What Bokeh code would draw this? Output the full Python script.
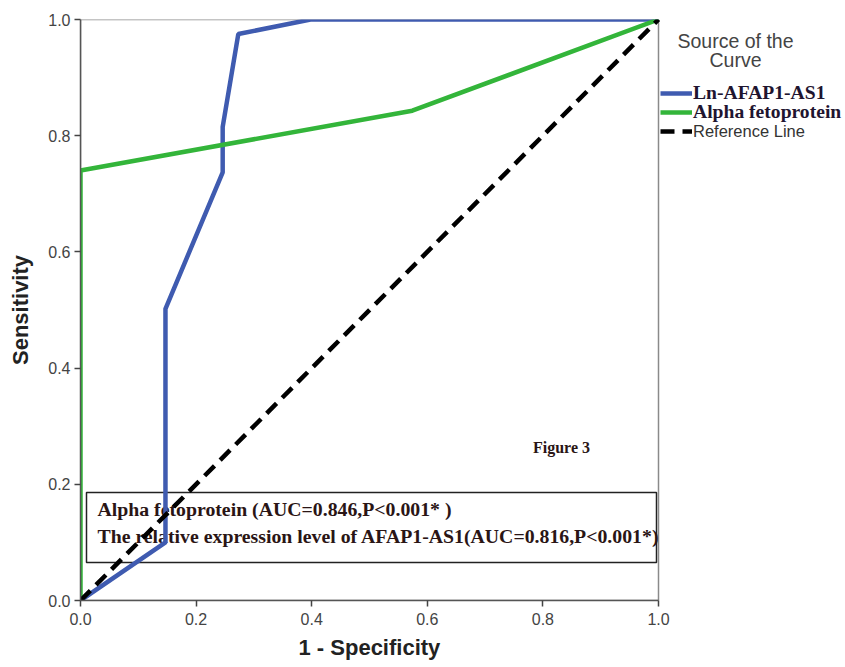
from bokeh.plotting import figure
from bokeh.models import (Legend, LegendItem, Label, BoxAnnotation, Title,
                          FixedTicker, Range1d, NumeralTickFormatter)
from bokeh.embed import file_html
from bokeh.resources import INLINE

# ROC data
blue_x = [0.0, 0.147, 0.147, 0.246, 0.246, 0.273, 0.398, 1.0]
blue_y = [0.0, 0.100, 0.502, 0.737, 0.815, 0.975, 1.0, 1.0]
green_x = [0.0, 0.0, 0.574, 1.0]
green_y = [0.0, 0.740, 0.843, 1.0]
ref_x = [0.0, 1.0]
ref_y = [0.0, 1.0]
ticks = [0.0, 0.2, 0.4, 0.6, 0.8, 1.0]

series_names = ["Ln-AFAP1-AS1", "Alpha fetoprotein", "Reference Line"]
legend_title = ["Source of the", "Curve"]
note_lines = ["Alpha fetoprotein (AUC=0.846,P<0.001* )",
              "The relative expression level of AFAP1-AS1(AUC=0.816,P<0.001*)"]
x_title = "1 - Specificity"
y_title = "Sensitivity"

PX = 578.0   # frame px per unit (x)
PY = 581.0   # frame px per unit (y)

p = figure(width=845, height=667, output_backend="svg", toolbar_location=None,
           x_range=Range1d(0, 765 / PX), y_range=Range1d(0, 1),
           min_border_left=80, min_border_right=0, min_border_top=19, min_border_bottom=67)
p.xgrid.visible = False
p.ygrid.visible = False
p.outline_line_color = None
p.background_fill_color = "white"
p.border_fill_color = "white"

for ax in (p.xaxis[0], p.yaxis[0]):
    ax.ticker = FixedTicker(ticks=ticks)
    ax.formatter = NumeralTickFormatter(format="0.0")
    ax.bounds = (0, 1)
    ax.minor_tick_line_color = None
    ax.major_tick_in = 0
    ax.major_tick_out = 6
    ax.major_tick_line_color = "#444444"
    ax.major_tick_line_width = 1.5
    ax.axis_line_color = "#555555"
    ax.axis_line_width = 1.5
    ax.major_label_text_font = "Liberation Sans"
    ax.major_label_text_font_size = "16px"
    ax.major_label_text_color = "#444444"
    ax.axis_label_text_font = "Liberation Sans"
    ax.axis_label_text_font_style = "bold"
    ax.axis_label_text_font_size = "22px"
    ax.axis_label_text_color = "#222222"
p.yaxis.axis_label = y_title
p.yaxis.axis_label_standoff = 12
p.xaxis.major_label_standoff = 6
p.yaxis.major_label_standoff = 4

# x-axis title, centred under the 0..1 part of the axis
p.add_layout(Title(text=x_title, align="left", offset=218, text_font="Liberation Sans",
                   text_font_style="bold", text_font_size="22px", text_color="#222222",
                   standoff=11), "below")

# plot frame (top and right borders)
frame = BoxAnnotation(left=0, right=1, bottom=0, top=1, fill_alpha=0,
                      line_color="#8a8a8a", line_alpha=1, line_width=1.5, level="underlay")
p.add_layout(frame)

# note box and texts (under the lines)
box = BoxAnnotation(left=6 / PX, right=576 / PX, bottom=38 / PY, top=108 / PY,
                    fill_alpha=0, line_color="#222222", line_alpha=1, line_width=1.5,
                    level="underlay")
p.add_layout(box)
for t, yy in zip(note_lines, [92 / PY, 65 / PY]):
    p.add_layout(Label(x=17 / PX, y=yy, text=t, text_font="Liberation Serif", text_font_style="bold",
                       text_font_size="19.8px", text_color="#2a1515", text_baseline="middle",
                       level="underlay"))
p.add_layout(Label(x=481 / PX, y=153 / PY, text="Figure 3", text_font="Liberation Serif",
                   text_font_style="bold", text_font_size="16px", text_color="#2a1515",
                   text_align="center", text_baseline="middle", level="underlay"))

r_blue = p.line(blue_x, blue_y, line_color="#3f5bb0", line_width=4.5)
r_green = p.line(green_x, green_y, line_color="#33b53a", line_width=4.5)
r_ref = p.line(ref_x, ref_y, line_color="black", line_width=4.5, line_dash="14 8")

# legend title
for t, yy in zip(legend_title, [40, 59]):
    p.add_layout(Label(x=(735 - 80) / PX, y=(600 - yy) / PY, text=t, text_font="Liberation Sans",
                       text_font_size="19.5px", text_color="#444444", text_align="center",
                       text_baseline="middle"))

H = 24
entries = [
    (series_names[0], r_blue, 93, "Liberation Serif", "bold", "19.6px", "#1f1530"),
    (series_names[1], r_green, 112, "Liberation Serif", "bold", "19.6px", "#1f1530"),
    (series_names[2], r_ref, 131, "Liberation Sans", "normal", "16.5px", "#333333"),
]
for name, rend, yc, fnt, sty, sz, col in entries:
    lg = Legend(items=[LegendItem(label=name, renderers=[rend])],
                location=(580, 600 - yc - H / 2))
    lg.label_text_font = fnt
    lg.label_text_font_style = sty
    lg.label_text_font_size = sz
    lg.label_text_color = col
    lg.border_line_color = None
    lg.background_fill_alpha = 0
    lg.padding = 0
    lg.margin = 0
    lg.spacing = 0
    lg.label_height = H
    lg.glyph_height = H
    lg.glyph_width = 32
    lg.label_standoff = 1
    p.add_layout(lg, "center")

open("out.html", "w").write(file_html(p, INLINE))
